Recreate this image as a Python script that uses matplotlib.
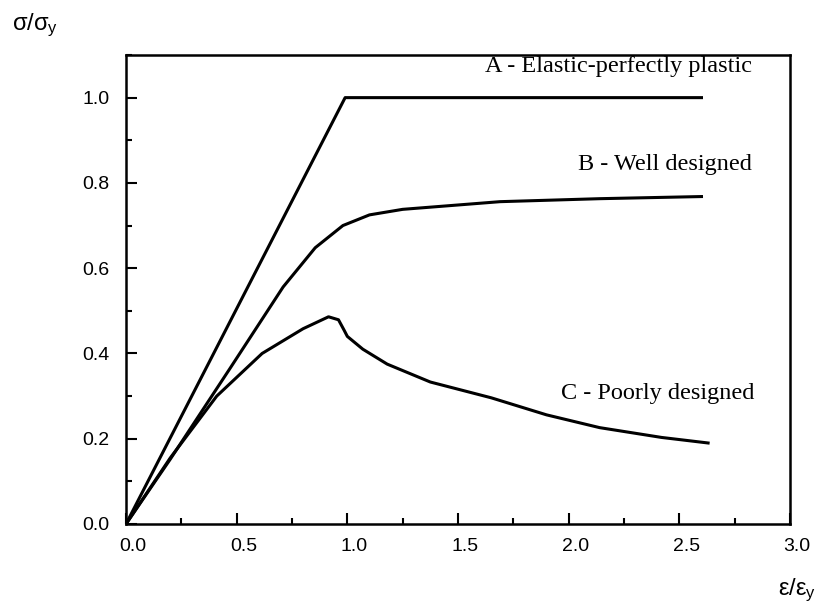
import matplotlib.pyplot as plt
from matplotlib.ticker import MultipleLocator
from matplotlib.transforms import ScaledTranslation

# strain ratio eps/eps_y and stress ratio sigma/sigma_y
eps_a = [0.0, 0.99, 2.60]
sig_a = [0.0, 1.0, 1.0]

eps_b = [0.0, 0.2, 0.47, 0.71, 0.855, 0.98, 1.10, 1.25, 1.69, 2.14, 2.60]
sig_b = [0.0, 0.152, 0.365, 0.556, 0.648, 0.70, 0.725, 0.738, 0.756, 0.763, 0.768]

eps_c = [0.0, 0.2, 0.41, 0.615, 0.80, 0.915, 0.96, 0.985, 1.0, 1.07, 1.18,
         1.375, 1.65, 1.9, 2.14, 2.42, 2.63]
sig_c = [0.0, 0.155, 0.30, 0.40, 0.458, 0.486, 0.479, 0.455, 0.44, 0.41, 0.375,
         0.333, 0.296, 0.256, 0.226, 0.203, 0.19]

labels = ["A - Elastic-perfectly plastic", "B - Well designed", "C - Poorly designed"]
label_pos = [(2.83, 1.073), (2.83, 0.843), (2.84, 0.307)]

plt.rcParams['font.family'] = 'Liberation Sans'

fig = plt.figure(figsize=(8.22, 6.08), dpi=100)
ax = fig.add_axes([126/822, 1 - 524/608, (790-126)/822, (524-55)/608])

for e, s in [(eps_a, sig_a), (eps_b, sig_b), (eps_c, sig_c)]:
    ax.plot(e, s, color='black', lw=2.2, solid_joinstyle='round')

for txt, (x, y) in zip(labels, label_pos):
    ax.text(x, y, txt, ha='right', va='center', fontsize=17.5,
            family='Liberation Serif')

ax.set_xlim(0, 3.0)
ax.set_ylim(0, 1.1)
ax.xaxis.set_major_locator(MultipleLocator(0.5))
ax.xaxis.set_minor_locator(MultipleLocator(0.25))
ax.yaxis.set_major_locator(MultipleLocator(0.2))
ax.yaxis.set_minor_locator(MultipleLocator(0.1))
ax.xaxis.set_major_formatter(lambda v, p: '%.1f' % v)
ax.yaxis.set_major_formatter(lambda v, p: '%.1f' % v)

ax.tick_params(which='both', direction='in', width=1.5, labelsize=14)
ax.tick_params(which='major', length=8)
ax.tick_params(which='minor', length=4)
ax.tick_params(axis='x', pad=10)
ax.tick_params(axis='y', pad=12)
for lab in ax.get_xticklabels():
    lab.set_transform(lab.get_transform() + ScaledTranslation(7/100, 0, fig.dpi_scale_trans))

for sp in ax.spines.values():
    sp.set_linewidth(1.8)

fig.text(12/822, 1 - 25/608, r'$\mathregular{σ/σ_y}$', fontsize=17, va='center', ha='left')
fig.text(778/822, 1 - 590/608, r'$\mathregular{ε/ε_y}$', fontsize=17, va='center', ha='left')

fig.savefig('out.png', dpi=100)
